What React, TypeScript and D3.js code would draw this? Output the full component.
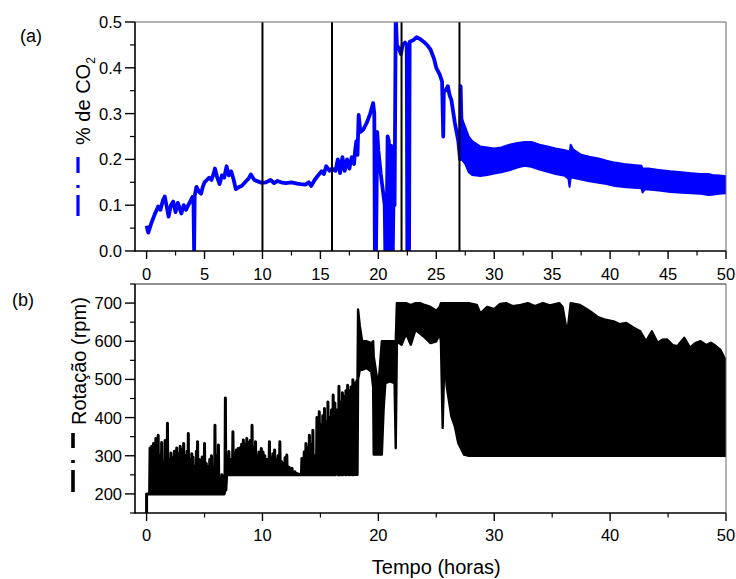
import React from 'react';
import * as d3 from 'd3';

// ---- Data ----
// (a) CO2 percentage: sparse/trace part [time (h), %CO2]
const co2Line: [number, number][] = [
  [0.0, 0.055], [0.15, 0.04], [0.4, 0.06], [0.7, 0.08], [1.0, 0.097], [1.2, 0.09], [1.4, 0.11], [1.57, 0.119],
  [1.75, 0.095], [1.9, 0.075], [2.1, 0.1], [2.3, 0.108], [2.5, 0.085], [2.7, 0.105], [3.0, 0.082], [3.2, 0.1],
  [3.4, 0.09], [3.6, 0.1], [3.8, 0.11], [3.95, 0.118], [4.05, 0.1], [4.1, 0.0], [4.15, 0.12], [4.3, 0.14],
  [4.5, 0.13], [4.7, 0.125], [4.85, 0.14], [5.0, 0.15], [5.2, 0.155], [5.4, 0.16], [5.6, 0.155], [5.8, 0.17],
  [5.9, 0.18], [6.1, 0.16], [6.3, 0.146], [6.5, 0.165], [6.7, 0.16], [6.9, 0.185], [7.1, 0.165], [7.3, 0.174],
  [7.5, 0.157], [7.7, 0.135], [8.0, 0.14], [8.2, 0.142], [8.5, 0.15], [8.8, 0.158], [9.0, 0.167], [9.3, 0.155],
  [9.6, 0.152], [9.9, 0.149], [10.3, 0.15], [10.7, 0.155], [11.0, 0.148], [11.3, 0.153], [11.6, 0.15],
  [12.0, 0.148], [12.5, 0.15], [13.0, 0.147], [13.3, 0.146], [13.7, 0.145], [14.0, 0.15], [14.2, 0.142],
  [14.5, 0.155], [14.8, 0.165], [15.1, 0.174], [15.3, 0.168], [15.5, 0.185], [15.8, 0.175], [16.0, 0.18],
  [16.3, 0.175], [16.5, 0.2], [16.7, 0.17], [16.9, 0.205], [17.1, 0.175], [17.3, 0.2], [17.5, 0.18],
  [17.7, 0.205], [17.9, 0.19], [18.0, 0.22], [18.1, 0.24], [18.2, 0.21], [18.3, 0.297], [18.45, 0.26],
  [18.7, 0.265], [19.0, 0.28], [19.3, 0.3], [19.55, 0.323], [19.65, 0.3], [19.7, 0.0], [19.8, 0.0],
  [19.9, 0.26], [20.0, 0.22], [20.2, 0.17], [20.4, 0.13], [20.55, 0.1], [20.6, 0.0], [20.7, 0.0],
  [20.8, 0.25], [20.9, 0.24], [21.0, 0.0], [21.1, 0.23], [21.2, 0.0], [21.25, 0.0], [21.35, 0.22],
  [21.4, 0.1], [21.5, 0.52], [21.6, 0.45], [21.8, 0.44], [21.95, 0.43], [22.1, 0.45], [22.3, 0.455],
  [22.45, 0.45], [22.5, 0.0], [22.65, 0.0], [22.7, 0.457], [23.0, 0.46], [23.3, 0.467], [23.6, 0.463],
  [23.9, 0.457], [24.2, 0.45], [24.5, 0.44], [24.8, 0.42], [25.0, 0.40], [25.3, 0.385], [25.5, 0.37],
  [25.6, 0.25], [25.65, 0.35], [25.8, 0.35], [26.0, 0.36], [26.15, 0.34], [26.3, 0.33], [26.6, 0.28],
  [26.9, 0.24], [27.05, 0.2], [27.1, 0.36], [27.2, 0.25],
];
// (a) CO2 dense band: [time (h), lower, upper]
const co2Band: [number, number, number][] = [
  [27.2, 0.2, 0.29], [27.5, 0.19, 0.27], [27.8, 0.172, 0.25], [28.1, 0.166, 0.24], [28.8, 0.164, 0.228],
  [29.4, 0.166, 0.226], [30.0, 0.169, 0.224], [30.6, 0.172, 0.226], [31.3, 0.176, 0.232], [32.0, 0.182, 0.236],
  [32.6, 0.186, 0.238], [33.2, 0.184, 0.238], [33.9, 0.178, 0.232], [34.6, 0.173, 0.228], [35.3, 0.168, 0.224],
  [36.1, 0.164, 0.22], [36.4, 0.158, 0.218], [36.5, 0.14, 0.215], [36.6, 0.16, 0.232], [36.8, 0.16, 0.222],
  [37.5, 0.156, 0.21], [38.2, 0.152, 0.206], [39.0, 0.149, 0.202], [39.7, 0.146, 0.197], [40.4, 0.142, 0.193],
  [41.2, 0.14, 0.19], [42.0, 0.138, 0.188], [42.7, 0.137, 0.186], [42.8, 0.128, 0.18], [43.0, 0.135, 0.18],
  [43.3, 0.134, 0.18], [44.2, 0.132, 0.177], [45.2, 0.129, 0.174], [46.2, 0.127, 0.172], [47.0, 0.126, 0.17],
  [47.8, 0.125, 0.168], [48.5, 0.122, 0.168], [48.8, 0.123, 0.166], [49.4, 0.125, 0.165], [50.0, 0.126, 0.163],
];
// vertical marker lines in (a)
const markerTimes = [10, 16, 22, 27];

// (b) rotation: start segment [time, rpm]
const rpmStart: [number, number][] = [[0, 150], [0, 200], [0.3, 200]];
// (b) oscillation spikes: [time, base rpm, peak rpm]
const rpmSpikes: [number, number, number][] = [
  [0.3, 200, 320], [0.45, 200, 325], [0.6, 200, 332], [0.8, 200, 345], [1.0, 200, 354], [1.15, 200, 300],
  [1.3, 200, 335], [1.45, 200, 280], [1.6, 200, 340], [1.8, 200, 385], [1.95, 200, 290], [2.1, 200, 307],
  [2.25, 200, 295], [2.4, 200, 312], [2.6, 200, 320], [2.75, 200, 305], [2.9, 200, 325], [3.05, 200, 316],
  [3.2, 200, 332], [3.35, 200, 300], [3.5, 200, 312], [3.6, 200, 358], [3.75, 200, 290], [3.9, 200, 305],
  [4.0, 200, 297], [4.15, 200, 270], [4.3, 200, 312], [4.4, 200, 337], [4.55, 200, 290], [4.7, 200, 280],
  [4.8, 200, 297], [5.0, 200, 332], [5.15, 200, 280], [5.3, 200, 271], [5.45, 200, 290], [5.6, 200, 300],
  [5.75, 200, 265], [5.9, 200, 380], [6.05, 200, 300], [6.2, 200, 328], [6.35, 200, 240], [6.5, 200, 250],
  [6.65, 200, 245], [6.8, 210, 451], [6.95, 250, 300], [7.1, 250, 311], [7.25, 250, 290], [7.45, 250, 363],
  [7.6, 250, 305], [7.75, 250, 315], [7.9, 250, 319], [8.05, 250, 320], [8.2, 250, 330], [8.35, 250, 341],
  [8.5, 250, 330], [8.65, 250, 345], [8.8, 250, 335], [8.95, 250, 340], [9.1, 250, 380], [9.25, 250, 320],
  [9.4, 250, 337], [9.55, 250, 300], [9.7, 250, 310], [9.9, 250, 319], [10.05, 250, 310], [10.2, 250, 300],
  [10.4, 250, 290], [10.6, 250, 337], [10.75, 250, 295], [10.9, 250, 305], [11.05, 250, 315], [11.2, 250, 290],
  [11.35, 250, 300], [11.5, 250, 337], [11.65, 250, 285], [11.8, 250, 280], [11.95, 250, 295], [12.1, 250, 302],
  [12.3, 250, 270], [12.55, 250, 267], [12.8, 250, 258], [13.4, 250, 293], [13.6, 250, 310], [13.75, 250, 332],
  [13.9, 250, 320], [14.05, 250, 354], [14.2, 250, 330], [14.35, 250, 367], [14.5, 250, 300], [14.7, 250, 400],
  [14.9, 250, 415], [15.05, 250, 380], [15.2, 250, 405], [15.35, 250, 424], [15.5, 250, 390], [15.65, 250, 441],
  [15.8, 250, 400], [15.95, 250, 420], [16.1, 250, 459], [16.25, 250, 438], [16.4, 255, 420], [16.6, 250, 482],
  [16.75, 260, 440], [16.9, 250, 465], [17.05, 265, 455], [17.2, 250, 470], [17.35, 270, 485], [17.5, 250, 470],
  [17.65, 280, 480], [17.8, 250, 499], [17.95, 260, 490],
];
// (b) solid core under the spikes: [time, lower rpm, upper rpm]
const rpmBody: [number, number, number][] = [
  [0.3, 200, 285], [1.0, 200, 290], [2.0, 200, 280], [3.0, 200, 285], [4.0, 200, 275], [5.0, 200, 275],
  [6.0, 200, 270], [6.3, 200, 250], [6.5, 200, 235], [6.75, 200, 245], [6.95, 250, 290], [8.0, 250, 300],
  [9.0, 250, 305], [10.0, 250, 295], [11.0, 250, 285], [12.0, 250, 272], [12.5, 250, 260], [13.3, 250, 253],
  [14.0, 250, 275], [15.0, 250, 300], [16.0, 250, 310], [17.0, 250, 320], [18.0, 250, 330],
];
// (b) dense band: [time, lower rpm, upper rpm]
const rpmBand: [number, number, number][] = [
  [18.0, 250, 490], [18.2, 250, 500], [18.25, 500, 683], [18.4, 525, 640], [18.6, 525, 600], [19.0, 530, 600],
  [19.4, 520, 595], [19.55, 480, 600], [19.6, 303, 560], [20.0, 303, 480], [20.3, 303, 600], [20.45, 420, 600],
  [20.6, 490, 600], [21.0, 495, 600], [21.4, 490, 600], [21.5, 320, 600], [21.6, 600, 700], [22.0, 591, 700],
  [22.4, 620, 700], [22.8, 591, 695], [23.2, 630, 700], [23.6, 620, 700], [24.0, 610, 695], [24.5, 595, 690],
  [25.0, 600, 680], [25.3, 620, 690], [25.4, 600, 700], [25.55, 373, 700], [25.7, 560, 700], [25.9, 482, 700],
  [26.3, 403, 700], [26.6, 377, 700], [26.9, 333, 700], [27.4, 303, 700], [27.8, 300, 700], [28.5, 300, 695],
  [28.8, 300, 673], [29.4, 300, 690], [30.0, 300, 684], [30.5, 300, 698], [31.0, 300, 700], [31.6, 300, 692],
  [32.3, 300, 695], [32.9, 300, 700], [33.5, 300, 692], [34.2, 300, 700], [34.8, 300, 694], [35.6, 300, 700],
  [35.9, 300, 690], [36.3, 300, 620], [36.6, 300, 700], [37.4, 300, 695], [37.9, 300, 686], [38.3, 300, 678],
  [38.9, 300, 664], [39.5, 300, 657], [40.3, 300, 652], [40.8, 300, 645], [41.4, 300, 648], [42.0, 300, 636],
  [42.6, 300, 626], [43.1, 300, 600], [43.6, 300, 626], [44.1, 300, 596], [44.5, 300, 604], [44.9, 300, 605],
  [45.4, 300, 590], [45.8, 300, 587], [46.4, 300, 609], [46.9, 300, 583], [47.4, 300, 596], [47.8, 300, 600],
  [48.3, 300, 590], [48.7, 300, 596], [49.1, 300, 588], [49.5, 300, 578], [50.0, 300, 548],
];

const co2Ticks = [0, 0.1, 0.2, 0.3, 0.4, 0.5];
const co2MinorTicks = [0.05, 0.15, 0.25, 0.35, 0.45];
const topTimeTicks = [0, 5, 10, 15, 20, 25, 30, 35, 40, 45, 50];
const topTimeMinor = [2.5, 7.5, 12.5, 17.5, 22.5, 27.5, 32.5, 37.5, 42.5, 47.5];
const rpmTicks = [200, 300, 400, 500, 600, 700];
const rpmMinorTicks = [150, 250, 350, 450, 550, 650, 750];
const botTimeTicks = [0, 10, 20, 30, 40, 50];
const botTimeMinor = [5, 15, 25, 35, 45];

const W = 736;
const H = 579;
const FONT = "'Liberation Sans', Arial, Helvetica, sans-serif";
const BLUE = '#0000ff';

export default function App() {
  const L = 135, R = 726;
  const topT = 22, topB = 251;
  const botT = 284, botB = 513;

  const x = d3.scaleLinear().domain([-1, 50]).range([L, R]);
  const yTop = d3.scaleLinear().domain([0, 0.5]).range([topB, topT]);
  const yBot = d3.scaleLinear().domain([150, 750]).range([botB, botT]);

  const co2Path = d3.line<[number, number]>().x(d => x(d[0])).y(d => yTop(d[1]))(co2Line) || '';
  const co2BandPath = d3.area<[number, number, number]>()
    .x(d => x(d[0])).y0(d => yTop(d[1])).y1(d => yTop(d[2]))(co2Band) || '';

  const spikePts: [number, number][] = [...rpmStart];
  rpmSpikes.forEach(([t, base, peak]) => {
    spikePts.push([t - 0.04, base], [t, peak], [t + 0.04, base]);
  });
  spikePts.push([rpmBand[0][0], rpmBand[0][1]]);
  const rpmPath = d3.line<[number, number]>().x(d => x(d[0])).y(d => yBot(d[1]))(spikePts) || '';
  const bandArea = d3.area<[number, number, number]>()
    .x(d => x(d[0])).y0(d => yBot(d[1])).y1(d => yBot(d[2]));
  const rpmBandPath = bandArea(rpmBand) || '';
  const rpmBodyPath = bandArea(rpmBody) || '';

  const tickFs = 16.5;
  const labelFs = 20;

  return (
    <svg width={W} height={H} style={{ position: 'absolute', left: 0, top: 0, background: '#fff' }}
      fontFamily={FONT}>
      <defs>
        <clipPath id="clipTop"><rect x={L} y={topT} width={R - L} height={topB - topT} /></clipPath>
        <clipPath id="clipBot"><rect x={L} y={botT} width={R - L} height={botB - botT} /></clipPath>
      </defs>
      <rect x={0} y={0} width={W} height={H} fill="#fff" />

      {/* ===== Panel (a) ===== */}
      <g clipPath="url(#clipTop)">
        <path d={co2BandPath} fill={BLUE} stroke={BLUE} strokeWidth={2} strokeLinejoin="round" />
        <path d={co2Path} fill="none" stroke={BLUE} strokeWidth={3.8} strokeLinejoin="round" />
      </g>
      {markerTimes.map(t => (
        <line key={t} x1={x(t)} x2={x(t)} y1={topT} y2={topB} stroke="#000" strokeWidth={2} />
      ))}
      {/* frame */}
      <line x1={L} x2={R} y1={topT} y2={topT} stroke="#666" strokeWidth={1} />
      <line x1={R} x2={R} y1={topT} y2={topB} stroke="#666" strokeWidth={1} />
      <line x1={L} x2={L} y1={topT} y2={topB + 0.5} stroke="#000" strokeWidth={1.6} />
      <line x1={L - 0.5} x2={R} y1={topB} y2={topB} stroke="#000" strokeWidth={1.6} />
      {co2Ticks.map(v => (
        <g key={v}>
          <line x1={L - 10} x2={L} y1={yTop(v)} y2={yTop(v)} stroke="#000" strokeWidth={1.4} />
          <text x={L - 13} y={yTop(v)} dy="0.36em" textAnchor="end" fontSize={tickFs}>{v.toFixed(1)}</text>
        </g>
      ))}
      {co2MinorTicks.map(v => (
        <line key={v} x1={L - 5} x2={L} y1={yTop(v)} y2={yTop(v)} stroke="#000" strokeWidth={1.2} />
      ))}
      {topTimeTicks.map(t => (
        <g key={t}>
          <line x1={x(t)} x2={x(t)} y1={topB} y2={topB + 8} stroke="#000" strokeWidth={1.4} />
          <text x={x(t)} y={280} textAnchor="middle" fontSize={tickFs}>{t}</text>
        </g>
      ))}
      {topTimeMinor.map(t => (
        <line key={t} x1={x(t)} x2={x(t)} y1={topB} y2={topB + 4.5} stroke="#000" strokeWidth={1.2} />
      ))}
      <text x={20} y={42} fontSize={18}>(a)</text>
      <text transform="translate(90,145) rotate(-90)" fontSize={labelFs}>
        % de CO<tspan fontSize={12} dy={5}>2</tspan>
      </text>
      <line x1={78} x2={78} y1={157} y2={216} stroke={BLUE} strokeWidth={3.2}
        strokeDasharray="16 12 3 7 21 100" />

      {/* ===== Panel (b) ===== */}
      <g clipPath="url(#clipBot)">
        <path d={rpmBodyPath} fill="#000" stroke="#000" strokeWidth={1} />
        <path d={rpmBandPath} fill="#000" stroke="#000" strokeWidth={2.4} strokeLinejoin="round" />
        <path d={rpmPath} fill="none" stroke="#000" strokeWidth={3} strokeLinejoin="round" />
      </g>
      <line x1={L} x2={R} y1={botT} y2={botT} stroke="#222" strokeWidth={1.2} />
      <line x1={R} x2={R} y1={botT} y2={botB} stroke="#666" strokeWidth={1} />
      <line x1={L} x2={L} y1={botT} y2={botB + 0.5} stroke="#000" strokeWidth={1.6} />
      <line x1={L - 0.5} x2={R} y1={botB} y2={botB} stroke="#000" strokeWidth={1.6} />
      {rpmTicks.map(v => (
        <g key={v}>
          <line x1={L - 10} x2={L} y1={yBot(v)} y2={yBot(v)} stroke="#000" strokeWidth={1.4} />
          <text x={L - 13} y={yBot(v)} dy="0.36em" textAnchor="end" fontSize={tickFs}>{v}</text>
        </g>
      ))}
      {rpmMinorTicks.map(v => (
        <line key={v} x1={L - 5} x2={L} y1={yBot(v)} y2={yBot(v)} stroke="#000" strokeWidth={1.2} />
      ))}
      {botTimeTicks.map(t => (
        <g key={t}>
          <line x1={x(t)} x2={x(t)} y1={botB} y2={botB + 8} stroke="#000" strokeWidth={1.4} />
          <text x={x(t)} y={541} textAnchor="middle" fontSize={tickFs}>{t}</text>
        </g>
      ))}
      {botTimeMinor.map(t => (
        <line key={t} x1={x(t)} x2={x(t)} y1={botB} y2={botB + 4.5} stroke="#000" strokeWidth={1.2} />
      ))}
      <text x={12} y={306} fontSize={18}>(b)</text>
      <text transform="translate(86,425) rotate(-90)" fontSize={labelFs}>Rotação (rpm)</text>
      <line x1={73} x2={73} y1={433} y2={492} stroke="#000" strokeWidth={3.6}
        strokeDasharray="15 12 3 7 22 100" />

      <text x={x(25)} y={574} textAnchor="middle" fontSize={labelFs}>Tempo (horas)</text>
    </svg>
  );
}
